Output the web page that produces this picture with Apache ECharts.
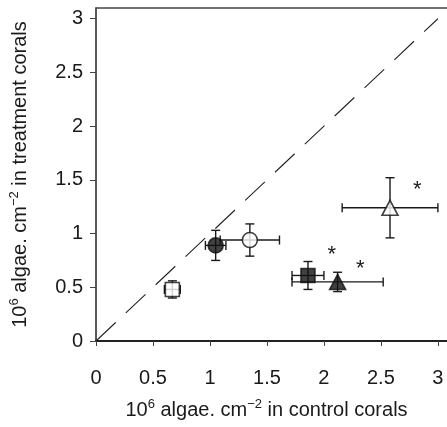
<!DOCTYPE html>
<html>
<head>
<meta charset="utf-8">
<script src="https://cdn.jsdelivr.net/npm/echarts@6/dist/echarts.min.js"></script>
<style>
  html, body { margin: 0; padding: 0; background: #fff; }
  #chart { width: 447px; height: 427px; }
</style>
</head>
<body>
<div id="chart"></div>
<script>
// Treatments (marker order in the figure)
const treatments = ['open square', 'filled circle', 'open circle', 'filled square', 'filled triangle', 'open triangle'];
// 10^6 algae cm^-2 in control corals (mean, error)
const controlMean = [0.67, 1.05, 1.35, 1.86, 2.12, 2.58];
const controlErr  = [0.07, 0.09, 0.26, 0.14, 0.40, 0.42];
// 10^6 algae cm^-2 in treatment corals (mean, error)
const treatMean = [0.48, 0.89, 0.94, 0.61, 0.55, 1.24];
const treatErr  = [0.08, 0.14, 0.15, 0.13, 0.09, 0.28];
// significance asterisks
const starX = [2.07, 2.32, 2.82];
const starY = [0.83, 0.70, 1.43];
// 1:1 reference line
const identityLine = [[0, 0], [3, 3]];
// tick labels
const tickValues = [0, 0.5, 1, 1.5, 2, 2.5, 3];

// marker styles (not data)
const markerSymbol = ['rect', 'circle', 'circle', 'rect', 'triangle', 'triangle'];
const markerSize = [14, 15, 15, 14, [16, 15], [16, 15]];
const markerFill = ['#fff', '#111', '#fff', '#111', '#111', '#fff'];

const FONT = '"Liberation Sans", Arial, sans-serif';
const TXT = '#1a1a1a';

const chart = echarts.init(document.getElementById('chart'), null, { renderer: 'canvas' });

function tickFmt(v) {
  const hit = tickValues.find(t => Math.abs(t - v) < 1e-6);
  return hit === undefined ? '' : String(hit);
}

const richSup = {
  sup: { fontSize: 13, lineHeight: 13, verticalAlign: 'top', fontFamily: FONT, color: TXT }
};

const option = {
  animation: false,
  backgroundColor: '#fff',
  grid: { left: 93, right: 0, top: 8, bottom: 75, containLabel: false },
  xAxis: [{
    type: 'value', min: 0, max: 3.08, interval: 0.5,
    name: '10{sup|6} algae. cm{sup|−2} in control corals',
    nameLocation: 'middle', nameGap: 57,
    nameTextStyle: { fontSize: 20, fontFamily: FONT, color: TXT, lineHeight: 24, padding: [0, 10, 0, 0], rich: richSup },
    axisLine: { show: true, onZero: false, lineStyle: { color: '#222', width: 2 } },
    axisTick: { show: true, inside: false, length: 5, lineStyle: { color: '#444', width: 1 } },
    axisLabel: { fontSize: 20, fontFamily: FONT, color: TXT, margin: 27, formatter: tickFmt, showMaxLabel: false },
    splitLine: { show: false }
  }, {
    type: 'value', min: 0, max: 3.08, position: 'top',
    axisLine: { show: true, onZero: false, lineStyle: { color: '#444', width: 1.5 } },
    axisTick: { show: false }, axisLabel: { show: false }, splitLine: { show: false }
  }],
  yAxis: {
    type: 'value', min: 0, max: 3.1, interval: 0.5,
    name: '10{sup|6} algae. cm{sup|−2} in treatment corals',
    nameLocation: 'middle', nameGap: 64, nameRotate: 90,
    nameTextStyle: { fontSize: 20, fontFamily: FONT, color: TXT, lineHeight: 24, rich: richSup },
    axisLine: { show: true, onZero: false, lineStyle: { color: '#222', width: 1.5 } },
    axisTick: { show: true, inside: false, length: 6, lineStyle: { color: '#444', width: 1 } },
    axisLabel: { fontSize: 20, fontFamily: FONT, color: TXT, margin: 13, formatter: tickFmt, showMaxLabel: false },
    splitLine: { show: false }
  },
  series: [
    {
      type: 'line', data: identityLine, symbol: 'none', silent: true,
      lineStyle: { color: '#222', width: 1.1, type: [27, 14] }, z: 1
    },
    {
      type: 'custom', z: 2, silent: true,
      data: controlMean.map((v, i) => [v, treatMean[i], controlErr[i], treatErr[i]]),
      renderItem: function (params, api) {
        const x = api.value(0), y = api.value(1), ex = api.value(2), ey = api.value(3);
        const l = api.coord([x - ex, y]), r = api.coord([x + ex, y]);
        const t = api.coord([x, y + ey]), b = api.coord([x, y - ey]);
        const cap = 4.5;
        const st = { stroke: '#1a1a1a', lineWidth: 1.4, fill: null };
        const seg = (x1, y1, x2, y2) => ({ type: 'line', shape: { x1, y1, x2, y2 }, style: st });
        return {
          type: 'group',
          children: [
            seg(l[0], l[1], r[0], r[1]),
            seg(l[0], l[1] - cap, l[0], l[1] + cap),
            seg(r[0], r[1] - cap, r[0], r[1] + cap),
            seg(t[0], t[1], b[0], b[1]),
            seg(t[0] - cap, t[1], t[0] + cap, t[1]),
            seg(b[0] - cap, b[1], b[0] + cap, b[1])
          ]
        };
      }
    },
    {
      type: 'scatter', z: 3, silent: true,
      data: controlMean.map((v, i) => ({
        name: treatments[i],
        value: [v, treatMean[i]],
        symbol: markerSymbol[i],
        symbolSize: markerSize[i],
        itemStyle: { color: markerFill[i], borderColor: '#111', borderWidth: 1.6 }
      }))
    },
    {
      type: 'custom', z: 4, silent: true,
      data: starX.map((v, i) => [v, starY[i]]),
      renderItem: function (params, api) {
        const p = api.coord([api.value(0), api.value(1)]);
        return {
          type: 'text', x: p[0], y: p[1] + 3,
          style: { text: '*', fontSize: 22, fontFamily: FONT, fill: '#1a1a1a', align: 'center', verticalAlign: 'middle' }
        };
      }
    }
  ]
};

chart.setOption(option);
</script>
</body>
</html>
